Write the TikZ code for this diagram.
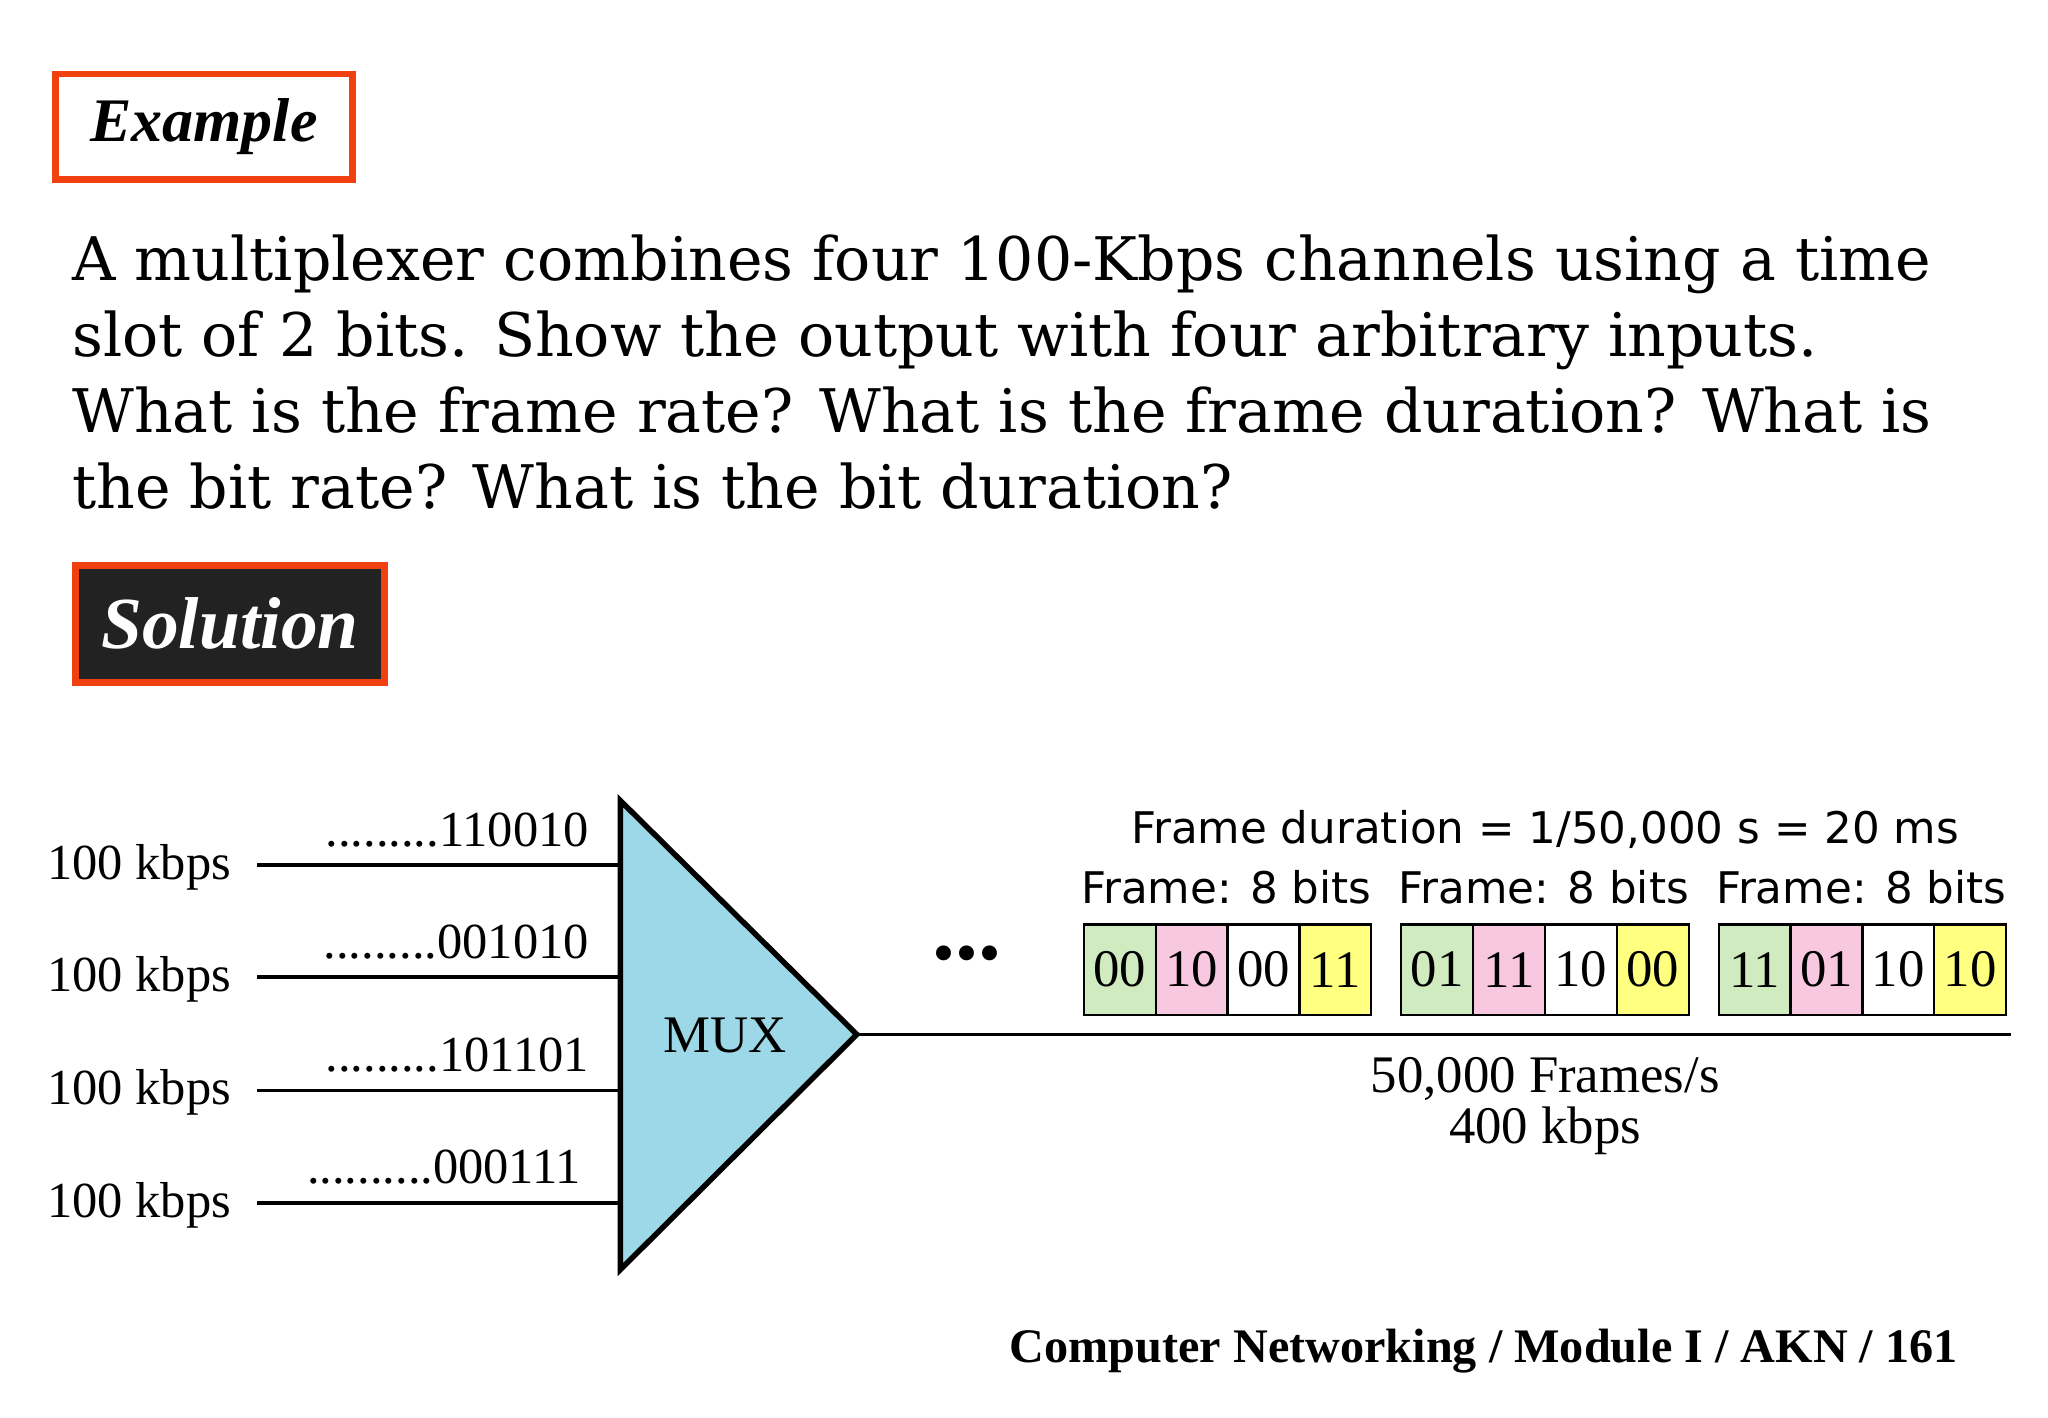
\documentclass[tikz,border=0pt]{standalone}
\usepackage{fontspec}
\setmainfont{Liberation Serif}
\newfontfamily\bodyfont{DejaVu Serif}
\newfontfamily\sansf{DejaVu Sans}
\newcommand{\dn}{.........}
\begin{document}
\begin{tikzpicture}[x=0.02cm,y=-0.02cm,
  redc/.style={draw={rgb,255:red,240;green,64;blue,16},line width=3pt},
  bits/.style={anchor=base east,font=\fontsize{22pt}{24pt}\selectfont},
  rate/.style={anchor=base west,font=\fontsize{22pt}{24pt}\selectfont},
  inl/.style={line width=1.6pt},
  slot/.style={draw,line width=1pt,minimum width=1.1cm,minimum height=1.38cm,inner sep=0pt,font=\fontsize{23pt}{25pt}\selectfont},
  ftxt/.style={font=\sansf\fontsize{19pt}{21pt}\selectfont},
]
\definecolor{gslot}{RGB}{208,235,192}
\definecolor{pslot}{RGB}{248,200,224}
\definecolor{yslot}{RGB}{255,255,128}
\definecolor{muxblue}{RGB}{156,216,232}
\useasboundingbox (0,0) rectangle (1568,1085);
\fill[white] (0,0) rectangle (1568,1085);
% Example box
\node[redc,minimum width=4.54cm,minimum height=1.62cm,anchor=north west] (ex) at (40,54) {};
\node[font=\bfseries\itshape\fontsize{27pt}{30pt}\selectfont] (ext) at (ex.center) {Example};
% paragraph
\foreach \t [count=\i] in {A multiplexer combines four 100-Kbps channels using a time,slot of 2 bits. Show the output with four arbitrary inputs.,What is the frame rate? What is the frame duration? What is,the bit rate? What is the bit duration?}
  \node[anchor=base west,inner sep=0pt,font=\bodyfont\fontsize{26.2pt}{30pt}\selectfont] (p\i) at (55,{215+58*(\i-1)}) {\t};
% Solution box
\node[redc,fill={rgb,255:red,34;green,34;blue,34},minimum width=4.74cm,minimum height=1.8cm,anchor=north west] (sol) at (55,430) {};
\node[text=white,font=\bfseries\itshape\fontsize{32pt}{35pt}\selectfont] (solt) at (sol.center) {Solution};
% MUX
\coordinate (t1) at (475,613); \coordinate (t2) at (475,972); \coordinate (tip) at (656,792);
\draw[fill=muxblue,line width=2.4pt,line join=miter] (t1) -- (tip) -- (t2) -- cycle;
\node[font=\fontsize{23pt}{26pt}\selectfont] (mux) at (555,793) {MUX};
% inputs
\foreach \y/\b [count=\i] in {662/110010,748/001010,835/101101,921/000111}{
  \coordinate (s\i) at (197,\y); \coordinate (e\i) at (475,\y);
  \draw[inl] (s\i) -- (e\i);
  \node[rate] (r\i) at (30,\y+11) {100 kbps};
}
\node[bits] (b1) at (457,648) {\dn110010};
\node[bits] (b2) at (457,734) {\dn001010};
\node[bits] (b3) at (457,820) {\dn101101};
\node[bits] (b4) at (451,906) {\dn.000111};
% output
\coordinate (oe) at (1540,792);
\draw[inl] (tip) -- (oe);
\node[font=\bfseries\fontsize{40pt}{40pt}\selectfont] (dots) at (740,730) {...};
% frames
\foreach \x/\a/\b/\c/\d [count=\k] in {829/00/10/00/11,1072/01/11/10/00,1315/11/01/10/10}{
  \node[slot,fill=gslot,anchor=north west] (f\k a) at (\x,707) {\a};
  \node[slot,fill=pslot,anchor=north west] (f\k b) at (\x+55,707) {\b};
  \node[slot,fill=white,anchor=north west] (f\k c) at (\x+110,707) {\c};
  \node[slot,fill=yslot,anchor=north west] (f\k d) at (\x+165,707) {\d};
  \node[ftxt] (fl\k) at (\x+110,679) {Frame: 8 bits};
}
\node[ftxt] (fd) at (1183,635) {Frame duration = 1/50,000 s = 20 ms};
\node[font=\fontsize{23pt}{26pt}\selectfont] (fr) at (1183,826) {50,000 Frames/s};
\node[font=\fontsize{23pt}{26pt}\selectfont] (kb) at (1183,866) {400 kbps};
\node[anchor=base east,font=\bfseries\fontsize{21pt}{25pt}\selectfont] (foot) at (1505,1043) {Computer Networking / Module I / AKN / 161};
\end{tikzpicture}
\end{document}
